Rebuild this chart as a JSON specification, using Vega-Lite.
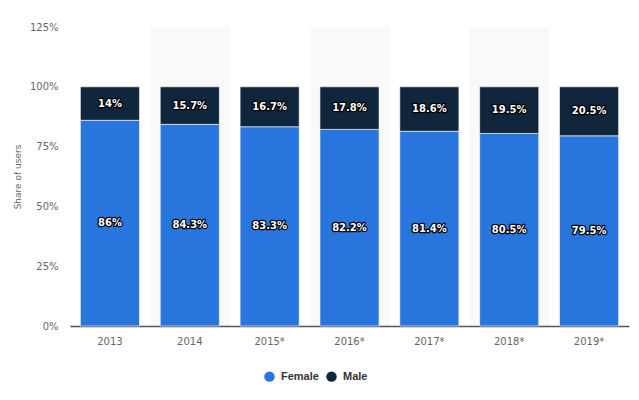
{
  "$schema": "https://vega.github.io/schema/vega-lite/v6.json",
  "width": 559,
  "height": 299,
  "autosize": {"type": "none"},
  "padding": {"left": 70, "top": 27, "right": 10, "bottom": 74},
  "background": "#ffffff",
  "config": {
    "view": {"stroke": null},
    "font": "DejaVu Sans",
    "axis": {"labelFont": "DejaVu Sans", "titleFont": "DejaVu Sans"}
  },
  "data": {
    "values": [
      {"year": "2013", "series": "Female", "value": 86},
      {"year": "2013", "series": "Male", "value": 14},
      {"year": "2014", "series": "Female", "value": 84.3},
      {"year": "2014", "series": "Male", "value": 15.7},
      {"year": "2015*", "series": "Female", "value": 83.3},
      {"year": "2015*", "series": "Male", "value": 16.7},
      {"year": "2016*", "series": "Female", "value": 82.2},
      {"year": "2016*", "series": "Male", "value": 17.8},
      {"year": "2017*", "series": "Female", "value": 81.4},
      {"year": "2017*", "series": "Male", "value": 18.6},
      {"year": "2018*", "series": "Female", "value": 80.5},
      {"year": "2018*", "series": "Male", "value": 19.5},
      {"year": "2019*", "series": "Female", "value": 79.5},
      {"year": "2019*", "series": "Male", "value": 20.5}
    ]
  },
  "transform": [
    {"stack": "value", "groupby": ["year"], "sort": [{"field": "series", "order": "ascending"}], "as": ["v0", "v1"]},
    {"calculate": "(datum.v0 + datum.v1) / 2", "as": "mid"},
    {"calculate": "datum.value + '%'", "as": "label"}
  ],
  "encoding": {
    "x": {
      "field": "year",
      "type": "nominal",
      "sort": null,
      "scale": {"domain": ["2013", "2014", "2015*", "2016*", "2017*", "2018*", "2019*"], "paddingInner": 0.26, "paddingOuter": 0.13},
      "axis": {
        "title": null,
        "labelAngle": 0,
        "labelColor": "#666666",
        "labelFontSize": 10,
        "labelPadding": 10,
        "ticks": false,
        "domainColor": "#555555",
        "domainWidth": 1.5,
        "grid": false
      }
    }
  },
  "layer": [
    {
      "transform": [
        {"filter": {"field": "series", "equal": "Female"}},
        {"filter": {"field": "year", "oneOf": ["2014", "2016*", "2018*"]}}
      ],
      "mark": {"type": "bar", "color": "#000000", "opacity": 0.025, "width": {"band": 1.355}},
      "encoding": {
        "y": {"datum": 125, "type": "quantitative"}
      }
    },
    {
      "mark": {"type": "bar", "stroke": "#ffffff", "strokeWidth": 1, "strokeOpacity": 0.6},
      "encoding": {
        "y": {
          "field": "v1",
          "type": "quantitative",
          "scale": {"domain": [0, 125], "nice": false},
          "axis": {
            "title": "Share of users",
            "titleColor": "#666666",
            "titleFontSize": 9,
            "titleFontWeight": "normal",
            "titlePadding": 7,
            "values": [0, 25, 50, 75, 100, 125],
            "labelExpr": "datum.value + '%'",
            "labelColor": "#666666",
            "labelFontSize": 10,
            "labelPadding": 12,
            "ticks": false,
            "domain": false,
            "gridColor": "#d0d0d0",
            "gridDash": [1, 2],
            "gridWidth": 1
          }
        },
        "y2": {"field": "v0"},
        "color": {
          "field": "series",
          "type": "nominal",
          "scale": {"domain": ["Female", "Male"], "range": ["#2876dd", "#10263c"]},
          "legend": {
            "title": null,
            "orient": "none",
            "legendX": 194,
            "legendY": 344,
            "direction": "horizontal",
            "symbolType": "circle",
            "symbolSize": 110,
            "symbolStrokeWidth": 0,
            "labelFontSize": 11,
            "labelFontWeight": "bold",
            "labelColor": "#333333",
            "labelFont": "Liberation Sans",
            "columnPadding": 7,
            "labelOffset": 6
          }
        }
      }
    },
    {
      "mark": {"type": "text", "fontSize": 10, "fontWeight": "bold", "stroke": "#000000", "strokeWidth": 2.5, "strokeJoin": "round", "fill": "#000000", "baseline": "middle"},
      "encoding": {
        "y": {"field": "mid", "type": "quantitative"},
        "text": {"field": "label"}
      }
    },
    {
      "mark": {"type": "text", "fontSize": 10, "fontWeight": "bold", "fill": "#ffffff", "baseline": "middle"},
      "encoding": {
        "y": {"field": "mid", "type": "quantitative"},
        "text": {"field": "label"}
      }
    }
  ]
}
